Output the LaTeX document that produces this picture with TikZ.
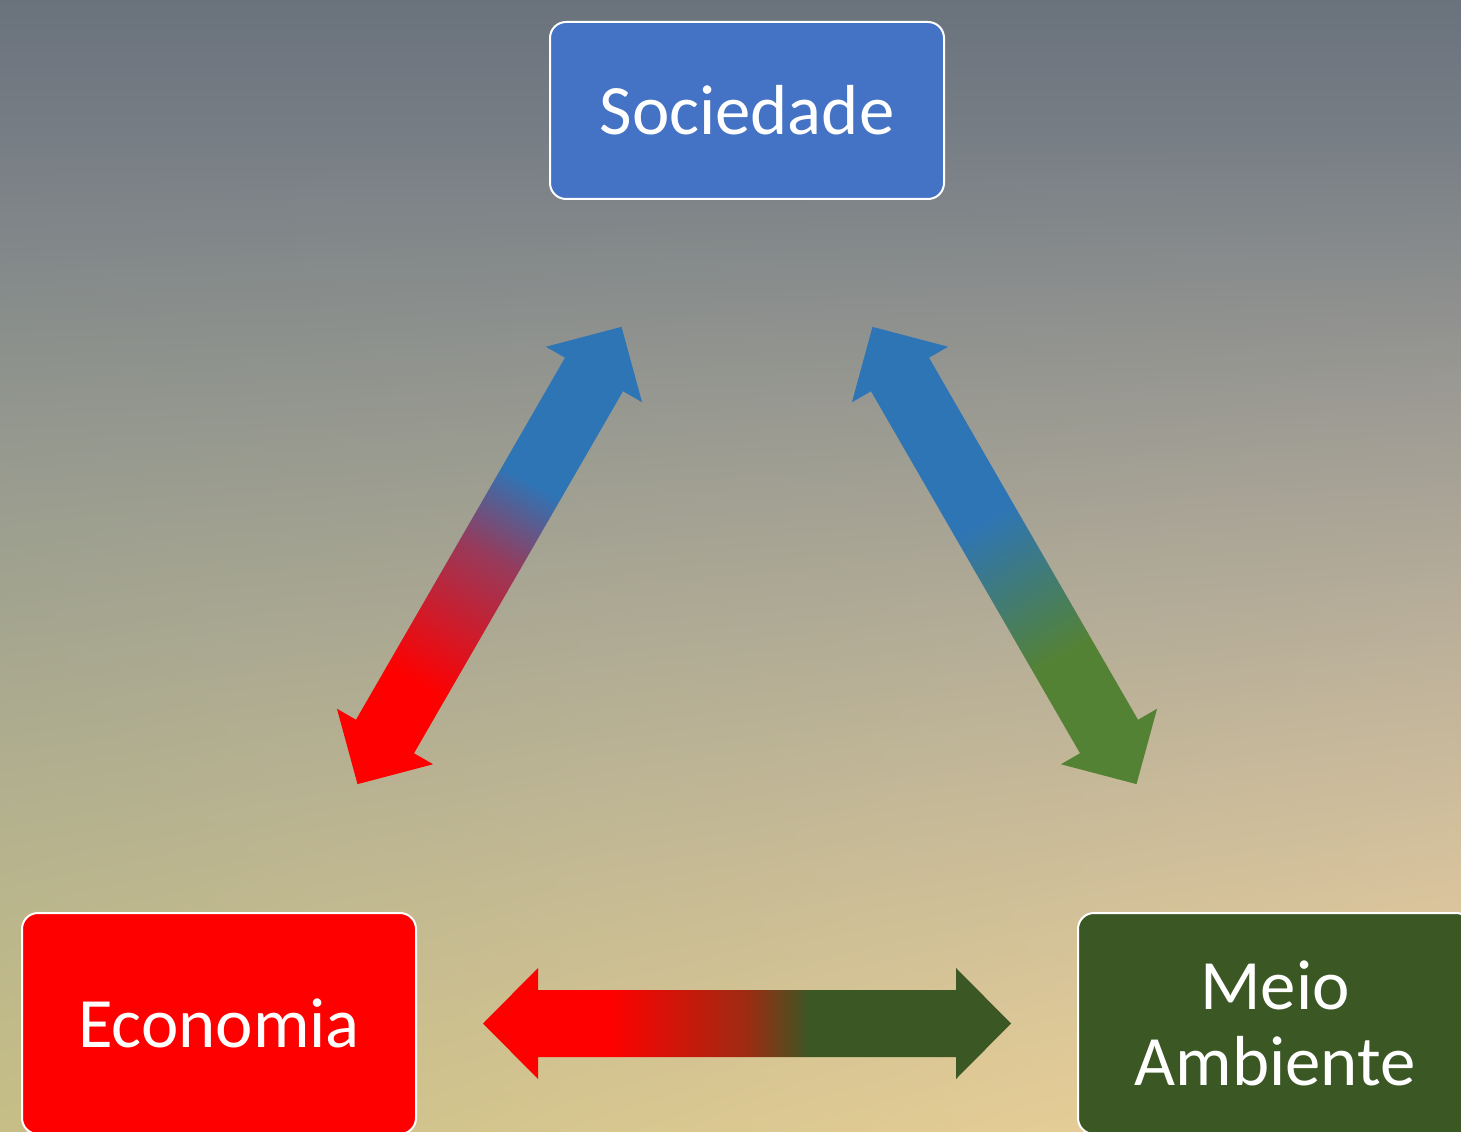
\documentclass[tikz,border=0pt]{standalone}
\usepackage{fontspec}
\setmainfont{Carlito}
\usetikzlibrary{calc}

\definecolor{socblue}{HTML}{4472C4}
\definecolor{econred}{HTML}{FF0000}
\definecolor{meiogreen}{HTML}{3A5724}
\definecolor{arrblue}{HTML}{2E75B6}
\definecolor{arrgreen}{HTML}{548235}
\colorlet{redblue}{econred!50!arrblue}
\colorlet{bluegreen}{arrblue!50!arrgreen}
\colorlet{redgreen}{econred!50!meiogreen}

% sky: grey-blue on top, sand below, warmer to the right
\pgfdeclarefunctionalshading{sky}{\pgfpointorigin}{\pgfpoint{100bp}{100bp}}{}{
  25 sub 50 div dup 0 lt {pop 0} if dup 1 gt {pop 1} if
  exch 25 sub 50 div dup 0 lt {pop 0} if dup 1 gt {pop 1} if exch
  dup -0.4525 mul 0.4 add dup 0 lt {pop 0} if
  1 index dup 24 mul -148 add mul 230 add
  3 index 105 mul 150 add
  1 index sub 2 index mul add 255 div
  2 index -95 mul 209 add
  4 index 48 mul 162 add
  1 index sub 3 index mul add 255 div
  3 index dup -52 mul 26 add mul 150 add
  5 index 55 mul 110 add
  1 index sub 4 index mul add 255 div
  6 3 roll pop pop pop
}
\pgfdeclarehorizontalshading{econsoc}{100bp}{color(0bp)=(econred); color(36bp)=(econred);
  color(50bp)=(redblue); color(58bp)=(arrblue); color(100bp)=(arrblue)}
\pgfdeclarehorizontalshading{socmeio}{100bp}{color(0bp)=(arrblue); color(46bp)=(arrblue);
  color(53.5bp)=(bluegreen); color(61bp)=(arrgreen); color(100bp)=(arrgreen)}
\pgfdeclarehorizontalshading{econmeio}{100bp}{color(0bp)=(econred); color(37bp)=(econred);
  color(50bp)=(redgreen); color(56bp)=(meiogreen); color(100bp)=(meiogreen)}

% block arrow: centre, angle, shading
\newcommand{\blockarrow}[3]{%
  \begin{scope}[transform canvas={shift={(#1)}, rotate=#2}]
    \shade[shading=#3] (-264,0) -- (-209,55.5) -- (-209,33.5) -- (209,33.5) -- (209,55.5)
      -- (264,0) -- (209,-55.5) -- (209,-33.5) -- (-209,-33.5) -- (-209,-55.5) -- cycle;
  \end{scope}}

\begin{document}
\begin{tikzpicture}[x=0.5pt, y=0.5pt,
    box/.style={draw=white, line width=1pt, rounded corners=8pt, text=white,
      minimum width=197pt, inner sep=0pt, align=center,
      font=\fontsize{35.4}{38}\selectfont}]
  \useasboundingbox (0,0) rectangle (1461,1131);
  \clip (0,0) rectangle (1461,1131);
  \shade[shading=sky] (0,0) rectangle (1461,1131);

  \node[box, fill=socblue, minimum height=88.5pt] (soc) at (747,1020.5) {Sociedade};
  \node[box, fill=econred, minimum height=110.5pt] (econ) at (219,107.5) {Economia};
  \node[box, fill=meiogreen, minimum height=110.5pt] (meio) at (1275,107.5) {Meio\\Ambiente};

  \coordinate (econ-soc) at (489.5,575.5);
  \coordinate (soc-meio) at (1004.5,575.5);
  \coordinate (econ-meio) at ($(econ)!0.5!(meio)$);
  \blockarrow{econ-soc}{60}{econsoc}
  \blockarrow{soc-meio}{-60}{socmeio}
  \blockarrow{econ-meio}{0}{econmeio}
\end{tikzpicture}
\end{document}
